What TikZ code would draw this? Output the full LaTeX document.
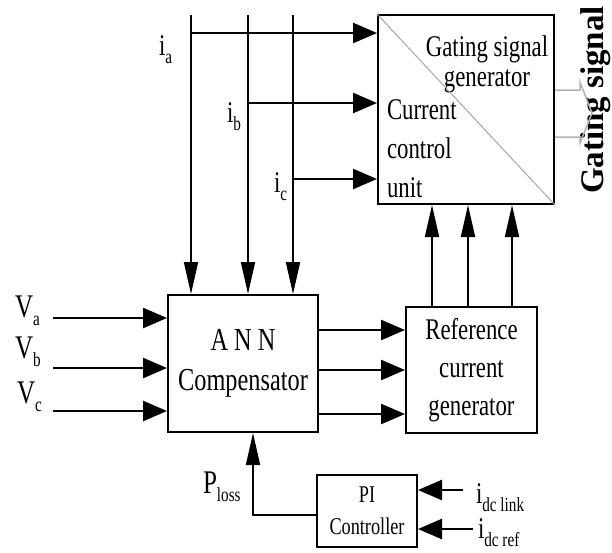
\documentclass[tikz,border=0pt]{standalone}
\usepackage{fontspec}
\setmainfont{Liberation Serif}[FakeStretch=0.76]
\newfontfamily\widefont{Liberation Serif}
\usetikzlibrary{positioning}
\usetikzlibrary{arrows.meta}
\usetikzlibrary{calc}
\newcommand{\lowsub}[1]{\raisebox{-8pt}{\fontsize{20}{20}\selectfont #1}}

\begin{document}
\begin{tikzpicture}[ x = 1pt, y = -1pt
                   , line width = 2pt
                   , font = \fontsize{30}{38}\selectfont
                   , harrow/.style = { -{Triangle[length=24pt, width=20pt]}
                                     , line width = 2.5pt }
                   , varrow/.style = { -{Triangle[length=32pt, width=14pt]}
                                     , line width = 1.8pt }
                   , block/.style = { rectangle
                                    , draw = black
                                    , line width = 2pt
                                    , inner sep = 0pt
                                    , align = center }
                   , lbl/.style = { anchor = base west
                                  , inner sep = 0pt
                                  , font = \fontsize{33}{33}\selectfont }
                   ]
  \useasboundingbox (0,0) rectangle (612,552);

  %%
  %% Blocks
  %%
  \node (gate) [block, minimum width=176pt, minimum height=189pt] at (466,109.5) {};
  \node (ann) [block, minimum width=150pt, minimum height=137pt,
               font=\fontsize{32}{40}\selectfont] at (243,363.5) {A N N\\Compensator};
  \node (ref) [block, minimum width=131pt, minimum height=126pt] at (471.5,370)
        {Reference\\current\\generator};
  \node (pi) [block, minimum width=100pt, minimum height=72pt,
              font=\fontsize{24}{32}\selectfont] at (367,511) {PI\\Controller};

  % texts of the split block
  \node (gtxt) [align=center, inner sep=0pt, font=\fontsize{30}{30}\selectfont]
        at (487,64) {Gating signal\\generator};
  \node (ctxt) [align=left, anchor=west, inner sep=0pt, font=\fontsize{30}{39}\selectfont]
        at (386,149) {Current\\control\\unit};
  \draw[gray!70, line width=1pt] (gate.north west) -- (gate.south east);

  %%
  %% Labels
  %%
  \node (la) [lbl] at (14,317) {V\lowsub{a}};
  \node (lb) [lbl] at (14,358) {V\lowsub{b}};
  \node (lc) [lbl] at (16,403) {V\lowsub{c}};
  \node (lia) [lbl, font=\fontsize{30}{30}\selectfont] at (158,55) {i\lowsub{a}};
  \node (lib) [lbl, font=\fontsize{30}{30}\selectfont] at (226,122) {i\lowsub{b}};
  \node (lic) [lbl, font=\fontsize{30}{30}\selectfont] at (273,192) {i\lowsub{c}};
  \node (lploss) [lbl] at (202,493) {P\lowsub{loss}};
  \node (llink) [lbl, font=\fontsize{30}{30}\selectfont] at (475,503) {i\lowsub{dc link}};
  \node (lref) [lbl, font=\fontsize{30}{30}\selectfont] at (477,538) {i\lowsub{dc ref}};
  \node (gsig) [rotate=90, anchor=base, inner sep=0pt,
                font=\widefont\bfseries\fontsize{33}{33}\selectfont] at (603,100) {Gating signal};

  %%
  %% Connectors
  %%
  % phase currents: down into the compensator, branch into the current control
  \foreach \nm/\x/\y in {a/191/33, b/248/103, c/293/179} {
    \coordinate (itop\nm) at (\x,15);
    \coordinate (ibr\nm) at (\x,\y);
    \draw[varrow] (itop\nm) -- (itop\nm |- ann.north);
    \draw[harrow] (ibr\nm) -- (ibr\nm -| gate.west);
  }
  % phase voltages
  \foreach \nm/\y in {a/318, b/368, c/411} {
    \coordinate (v\nm) at (53,\y);
    \draw[harrow] (v\nm) -- (v\nm -| ann.west);
  }
  % compensator to reference generator
  \foreach \y in {330, 370, 414}
    \draw[harrow] (ann.east |- 0,\y) -- (ref.west |- 0,\y);
  % reference currents up
  \foreach \x in {432, 468, 512}
    \draw[varrow] (ref.north -| \x,0) -- (gate.south -| \x,0);
  % dc link inputs
  \coordinate (idclink) at (463,490);
  \coordinate (idcref) at (473,529);
  \draw[harrow] (idclink) -- (idclink -| pi.east);
  \draw[harrow] (idcref) -- (idcref -| pi.east);
  % loss feedback
  \coordinate (ploss) at (253,515);
  \draw[varrow] (pi.west |- ploss) -- (ploss) -- (ploss |- ann.south);

  % hollow output arrow
  \draw[gray!60, line width=1.5pt] (gate.east |- 0,90) -- (580,90) -- (580,82)
       -- (592,113) -- (580,143) -- (580,137) -- (gate.east |- 0,137);
\end{tikzpicture}
\end{document}
